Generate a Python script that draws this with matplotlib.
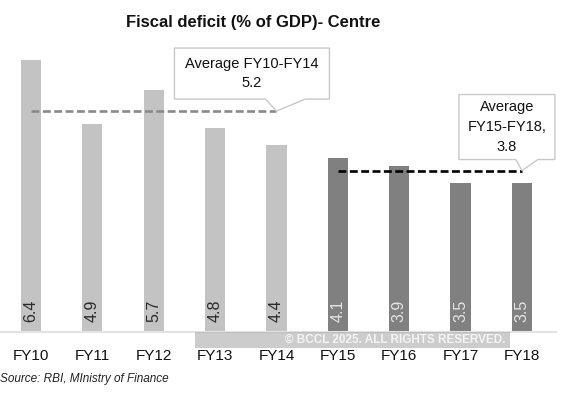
import numpy as np
import matplotlib
matplotlib.use('Agg')
import matplotlib.pyplot as plt
from matplotlib.patches import Polygon, Rectangle
from matplotlib.transforms import IdentityTransform

years = ['FY10', 'FY11', 'FY12', 'FY13', 'FY14', 'FY15', 'FY16', 'FY17', 'FY18']
deficit = [6.4, 4.9, 5.7, 4.8, 4.4, 4.1, 3.9, 3.5, 3.5]
avg_early = 5.2   # FY10-FY14
avg_late = 3.8    # FY15-FY18

plt.rcParams['font.family'] = ['Liberation Sans', 'DejaVu Sans']

fig = plt.figure(figsize=(5.7, 3.95), dpi=100)
ax = fig.add_axes([0.0005, 0.1595, 0.969, 0.753])

x = np.arange(len(years))
light, dark = '#c3c3c3', '#808080'
colors = [light] * 5 + [dark] * 4
ax.bar(x, deficit, width=0.33, color=colors, zorder=2)

# values written vertically near the foot of each bar
for i, v in enumerate(deficit):
    tc = '#2a2a2a' if i < 5 else '#e4e4e4'
    ax.text(i, 0.5, f'{v}', rotation=90, ha='center', va='center',
            fontsize=11.5, color=tc, zorder=3)

# average lines
ax.plot([0, 4], [avg_early, avg_early], color='#8a8a8a', lw=1.9,
        dashes=(3.0, 1.3), zorder=4)
ax.plot([5, 8], [avg_late, avg_late], color='black', lw=1.9,
        dashes=(3.0, 1.3), zorder=4)

ax.set_xlim(-0.5, 8.5)
ax.set_ylim(0, 7)
ax.set_xticks(x)
ax.set_xticklabels(years, fontsize=11, color='#111111')
ax.tick_params(axis='x', length=0, pad=12)
ax.set_yticks([])
for s in ['top', 'right', 'left']:
    ax.spines[s].set_visible(False)
ax.spines['bottom'].set_color('#e3e3e3')
ax.spines['bottom'].set_linewidth(1.5)
ax.spines['bottom'].set_bounds(-0.5, 8.55)


def callout(tip_x, tip_y, left, right, top, bottom, b0, b1, lines, step):
    # speech box drawn in pixel offsets from the pointer tip
    tx, ty = ax.transData.transform((tip_x, tip_y))
    pts = [(left, bottom), (left, top), (right, top), (right, bottom),
           (b1, bottom), (0, 0), (b0, bottom)]
    verts = [(tx + dx, ty + dy) for dx, dy in pts]
    fig.patches.append(Polygon(verts, closed=True, transform=IdentityTransform(),
                               facecolor='white', edgecolor='#c8c8c8', lw=1.0,
                               zorder=5))
    cx = tx + (left + right) / 2
    cy = ty + (top + bottom) / 2
    n = len(lines)
    for k, line in enumerate(lines):
        yy = cy + ((n - 1) / 2 - k) * step
        fig.text(cx / fig.bbox.width, yy / fig.bbox.height, line,
                 ha='center', va='center', fontsize=10.5, color='#111111',
                 zorder=6)


fig.canvas.draw()
callout(4, avg_early, -102, 53, 63, 12, -11, 29,
        ['Average FY10-FY14', f'{avg_early}'], 19)
callout(8, avg_late, -63, 33, 76, 11, -6, 16,
        ['Average', 'FY15-FY18,', f'{avg_late}'], 20)

fig.text(253 / 570, 0.944, 'Fiscal deficit (% of GDP)- Centre', ha='center',
         va='center', fontsize=12, fontweight='bold', color='#111111')
fig.text(0.0, 0.04, 'Source: RBI, MInistry of Finance', ha='left',
         va='center', fontsize=8.5, style='italic', color='#222222')

# watermark strip
fig.patches.append(Rectangle((195 / 570, 1 - 348 / 395), 315 / 570, 16 / 395,
                             transform=fig.transFigure, facecolor='#9a9a9a',
                             alpha=0.5, edgecolor='none', zorder=7))
fig.text(505 / 570, 1 - 340 / 395, '\u00a9 BCCL 2025. ALL RIGHTS RESERVED.',
         ha='right', va='center', fontsize=8.5, fontweight='bold',
         color='#f4f4f4', zorder=8)

fig.savefig('out.png', dpi=100)
